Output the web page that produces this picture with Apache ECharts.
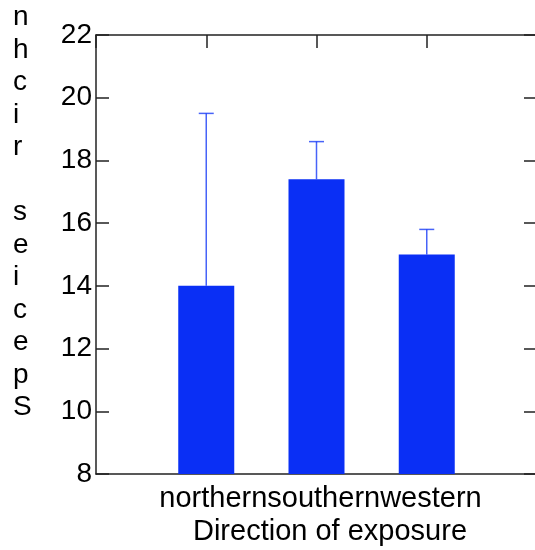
<!DOCTYPE html>
<html>
<head>
<meta charset="utf-8">
<script src="https://cdn.jsdelivr.net/npm/echarts@6/dist/echarts.min.js"></script>
<style>html,body{margin:0;padding:0;background:#fff}#c{width:535px;height:550px}</style>
</head>
<body>
<div id="c"></div>
<script>
var categories = ['northern', 'southern', 'western'];
var positions = [1, 2, 3];
var means = [14.0, 17.4, 15.0];
var upperErr = [19.5, 18.6, 15.8];
var yTicks = [8, 10, 12, 14, 16, 18, 20, 22];
var yTitleLetters = ['n', 'h', 'c', 'i', 'r', '', 's', 'e', 'i', 'c', 'e', 'p', 'S'];
var xTitle = 'Direction of exposure';

var FONT = '"Liberation Sans", Arial, sans-serif';
var BLUE = '#0a2ff5';
var AX = '#222';

var chart = echarts.init(document.getElementById('c'));
var barData = positions.map(function (p, i) { return [p, means[i]]; });
var errData = positions.map(function (p, i) { return [p, means[i], upperErr[i]]; });

chart.setOption({
  animation: false,
  grid: { left: 96, top: 35, width: 441, height: 439, containLabel: false, outerBoundsMode: 'none' },
  xAxis: [{
    type: 'value', min: 0, max: 4, interval: 1, position: 'bottom',
    axisLine: { show: true, onZero: false, lineStyle: { color: AX, width: 1.5 } },
    axisTick: { show: false },
    splitLine: { show: false },
    axisLabel: {
      margin: 10, fontSize: 29, fontFamily: FONT, color: '#000', padding: [0, 0, 0, 8],
      formatter: function (v) { return v === positions[1] ? categories.join('') : ''; }
    }
  }, {
    type: 'value', min: 0, max: 4, interval: 1, position: 'top',
    axisLine: { show: true, onZero: false, lineStyle: { color: AX, width: 1.5 } },
    axisTick: { show: true, inside: true, length: 13, lineStyle: { color: AX, width: 1.5 } },
    splitLine: { show: false },
    axisLabel: { show: false }
  }],
  yAxis: [{
    type: 'value', min: yTicks[0], max: yTicks[yTicks.length - 1], interval: 2, position: 'left',
    axisLine: { show: true, onZero: false, lineStyle: { color: AX, width: 1.5 } },
    axisTick: { show: true, inside: true, length: 13, lineStyle: { color: AX, width: 1.5 } },
    splitLine: { show: false },
    axisLabel: { margin: 4, fontSize: 28, fontFamily: FONT, color: '#000' }
  }, {
    type: 'value', min: yTicks[0], max: yTicks[yTicks.length - 1], interval: 2, position: 'right',
    axisLine: { show: true, onZero: false, lineStyle: { color: AX, width: 1.5 } },
    axisTick: { show: true, inside: true, length: 13, lineStyle: { color: AX, width: 1.5 } },
    splitLine: { show: false },
    axisLabel: { show: false }
  }],
  series: [{
    type: 'bar', xAxisIndex: 0, yAxisIndex: 0,
    data: barData, barWidth: 56,
    itemStyle: { color: BLUE }
  }, {
    type: 'custom', xAxisIndex: 0, yAxisIndex: 0,
    data: errData,
    renderItem: function (params, api) {
      var x = api.value(0);
      var lo = api.coord([x, api.value(1)]);
      var hi = api.coord([x, api.value(2)]);
      var hw = 7.5;
      return {
        type: 'group',
        children: [
          { type: 'line', shape: { x1: lo[0], y1: lo[1], x2: hi[0], y2: hi[1] }, style: { stroke: BLUE, lineWidth: 1.5, opacity: 0.75 } },
          { type: 'line', shape: { x1: hi[0] - hw, y1: hi[1], x2: hi[0] + hw, y2: hi[1] }, style: { stroke: BLUE, lineWidth: 1.5, opacity: 0.75 } }
        ]
      };
    },
    z: 5
  }],
  graphic: [{
    type: 'text', left: 13, top: 1.5,
    style: {
      text: yTitleLetters.join('\n'), font: '28px ' + FONT, fill: '#000',
      lineHeight: 32.5, textAlign: 'left', textVerticalAlign: 'top'
    }
  }, {
    type: 'text', x: 330, y: 531.5,
    style: {
      text: xTitle, font: '29px ' + FONT, fill: '#000',
      textAlign: 'center', textVerticalAlign: 'middle'
    }
  }]
});
</script>
</body>
</html>
